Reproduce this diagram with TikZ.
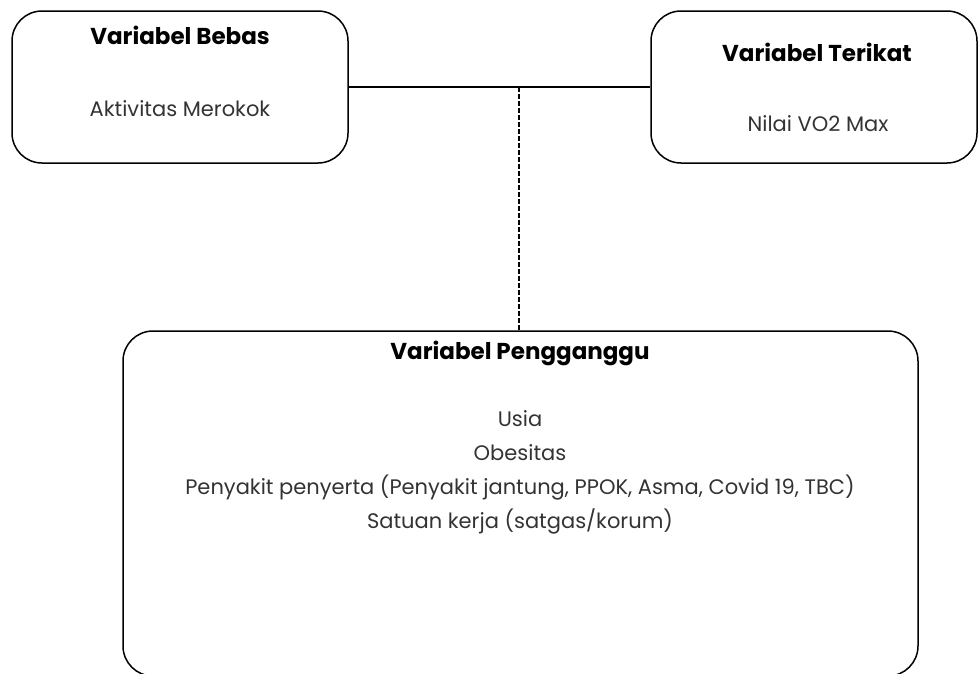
\documentclass[tikz,border=0pt]{standalone}
\usepackage{fontspec}
\setmainfont{Poppins}
\usetikzlibrary{positioning}

\begin{document}
\begin{tikzpicture}[x=1pt, y=-1pt, line width=1.5pt]
  \tikzset{
    varbox/.style={draw, rounded corners=30pt, inner sep=0pt},
    judul/.style={font=\bfseries\fontsize{23}{26}\selectfont},
    isi/.style={font=\fontsize{21}{34}\selectfont, text=black!80, align=center},
  }
  \useasboundingbox (0,0) rectangle (978,673);
  % three variable boxes
  \node[varbox, minimum width=336pt, minimum height=152pt] (bebas) at (180,87) {};
  \node[varbox, minimum width=326pt, minimum height=152pt] (terikat) at (814,87) {};
  \node[varbox, minimum width=795pt, minimum height=345pt] (pengganggu) at (520.5,503.5) {};
  % texts
  \node[judul] (bebasjudul) at (180,35) {Variabel Bebas};
  \node[isi] (bebasisi) at (180,109) {Aktivitas Merokok};
  \node[judul] (terikatjudul) at (817,52) {Variabel Terikat};
  \node[isi] (terikatisi) at (818,124) {Nilai VO2 Max};
  \node[judul] (penggangujudul) at (520,353) {Variabel Pengganggu};
  \node[isi] (pengganggurisi) at (520,472) {Usia\\Obesitas\\Penyakit penyerta (Penyakit jantung, PPOK, Asma, Covid 19, TBC)\\Satuan kerja (satgas/korum)};
  % connectors
  \draw (bebas.east) -- (terikat.west);
  \coordinate (cabang) at (519,87);
  \draw[dash pattern=on 5pt off 2pt] (cabang) -- (cabang |- pengganggu.north);
\end{tikzpicture}
\end{document}
